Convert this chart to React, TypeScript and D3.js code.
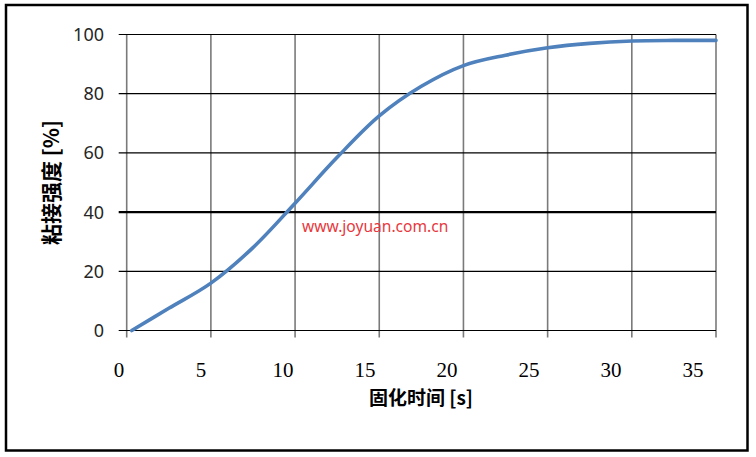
import React from "react";
import * as d3 from "d3";

const times: number[] = [0.3, 2.5, 5, 7.5, 10, 12.5, 15, 17.5, 20, 22.5, 25, 27.5, 30, 32.5, 35];
const strength: number[] = [0, 7.5, 16, 28, 43, 58.5, 72.5, 82.5, 89.5, 93, 95.5, 97, 97.8, 98, 98];
const xTicks: number[] = [0, 5, 10, 15, 20, 25, 30, 35];
const yTicks: number[] = [0, 20, 40, 60, 80, 100];
const xTitle = "固化时间 [s]";
const yTitle = "粘接强度 [%]";
const watermark = "www.joyuan.com.cn";

const W = 756;
const H = 457;

export default function App() {
    const x = d3.scaleLinear().domain([0, 35]).range([126.7, 716]);
    const y = d3.scaleLinear().domain([0, 100]).range([330.5, 34.5]);
    // tick labels in the original sit a little left of their gridlines
    const xLabel = d3.scaleLinear().domain([0, 35]).range([119, 693]);

    const line = d3.line<number>()
        .x((_, i) => x(times[i]))
        .y(d => y(d))
        .curve(d3.curveCatmullRom.alpha(0.5));

    return (
        <svg width={W} height={H} style={{position: "absolute", left: 0, top: 0}}>
            <rect x={0} y={0} width={W} height={H} fill="#fff" />
            <rect x={6} y={5} width={741.5} height={445.5} fill="none" stroke="#000" strokeWidth={2.5} />

            {xTicks.map(t => (
                <line key={"vx" + t} x1={x(t)} x2={x(t)} y1={y(100)} y2={y(0) + 7}
                      stroke="#7a7a7a" strokeWidth={1.6} />
            ))}
            {yTicks.map(t => (
                <line key={"hy" + t} x1={x(0) - 8} x2={x(35)} y1={y(t)} y2={y(t)}
                      stroke="#000" strokeWidth={t === 40 ? 2.2 : 1.2} />
            ))}

            {yTicks.map(t => (
                <text key={"ly" + t} x={104} y={y(t)} dy="0.36em" textAnchor="end"
                      fontFamily="'Noto Sans', sans-serif" fontSize={18} fill="#262626">{t}</text>
            ))}
            {xTicks.map(t => (
                <text key={"lx" + t} x={xLabel(t)} y={377} textAnchor="middle"
                      fontFamily="'Liberation Serif', serif" fontSize={21} fill="#000">{t}</text>
            ))}

            <path d={line(strength) || ""} fill="none" stroke="#4F81BD" strokeWidth={3.6}
                  strokeLinecap="round" strokeLinejoin="round" />

            <text x={302} y={232} fontFamily="'Noto Sans', sans-serif" fontSize={15.6} fill="#e8383d">{watermark}</text>

            <text x={421} y={405} textAnchor="middle" fontFamily="'Noto Sans CJK SC', sans-serif"
                  fontWeight={700} fontSize={19} fill="#000">{xTitle}</text>
            <text transform="translate(59,182.5) rotate(-90)" textAnchor="middle"
                  fontFamily="'Noto Sans CJK SC', sans-serif" fontWeight={700} fontSize={21} fill="#000">{yTitle}</text>
        </svg>
    );
}
